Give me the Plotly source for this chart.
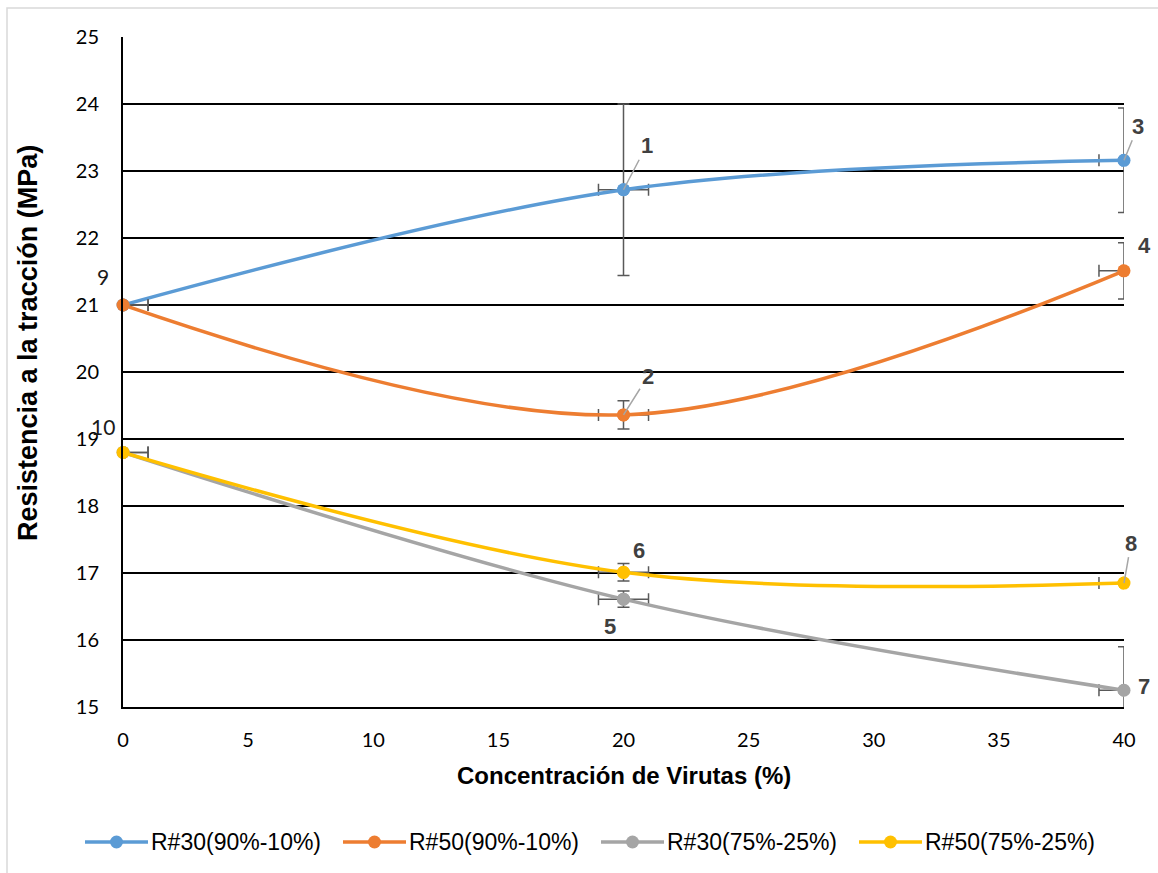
import plotly.graph_objects as go

# Concentration of chips (%) and tensile strength (MPa) per mix
concentracion = [0, 20, 40]

series_names = ["R#30(90%-10%)", "R#50(90%-10%)", "R#30(75%-25%)", "R#50(75%-25%)"]
series_colors = ["#5B9BD5", "#ED7D31", "#A5A5A5", "#FFC000"]

r30_90 = [21.0, 22.72, 23.16]
r50_90 = [21.0, 19.36, 21.51]
r30_75 = [18.8, 16.61, 15.25]
r50_75 = [18.8, 17.01, 16.85]

# standard deviations (vertical) and concentration tolerance (horizontal)
r30_90_err = [0.0, 1.28, 0.78]
r50_90_err = [0.0, 0.21, 0.42]
r30_75_err = [0.0, 0.12, 0.65]
r50_75_err = [0.0, 0.13, 0.0]
conc_err = [1.0, 1.0, 1.0]

series_values = [r30_90, r50_90, r30_75, r50_75]
series_errors = [r30_90_err, r50_90_err, r30_75_err, r50_75_err]

# sample numbers: (series index, point index, text, dx, dy, leader line)
sample_labels = [
    (0, 1, "1", 23, -44, True),
    (1, 1, "2", 24, -38, True),
    (0, 2, "3", 14, -34, True),
    (1, 2, "4", 20, -25, False),
    (2, 1, "5", -14, 27, False),
    (3, 1, "6", 15, -22, False),
    (2, 2, "7", 20, -4, False),
    (3, 2, "8", 7, -40, True),
]
origin_labels = [(0, 0, "9", -20, -29), (2, 0, "10", -20, -26)]

ERR_COLOR = "#595959"
PLOT_L, PLOT_R, PLOT_T, PLOT_B = 123, 1124, 37, 707
W, H = 1158, 873


def px_to_paper_x(px):
    return (px - PLOT_L) / (PLOT_R - PLOT_L)


def px_to_paper_y(py):
    return (PLOT_B - py) / (PLOT_B - PLOT_T)


fig = go.Figure()

for name, color, ys, yerr in zip(series_names, series_colors, series_values, series_errors):
    fig.add_trace(go.Scatter(
        x=concentracion, y=ys, name=name, mode="lines+markers", showlegend=False,
        line=dict(color=color, width=3.5, shape="spline", smoothing=1),
        marker=dict(color=color, size=13),
        error_y=dict(type="data", array=yerr, color=ERR_COLOR, thickness=1.5, width=6),
        error_x=dict(type="data", array=conc_err, color=ERR_COLOR, thickness=1.5, width=6),
        cliponaxis=True,
    ))

# markers sitting on the axis edges stay whole
for color, ys in zip(series_colors, series_values):
    fig.add_trace(go.Scatter(
        x=concentracion, y=ys, mode="markers", showlegend=False, hoverinfo="skip",
        marker=dict(color=color, size=13), cliponaxis=False,
    ))

annotations = []
for si, pi, txt, dx, dy, leader in sample_labels:
    a = dict(x=concentracion[pi], y=series_values[si][pi], text=txt,
             font=dict(family="Liberation Sans", size=22, color="#404040", weight="bold"))
    if leader:
        a.update(showarrow=True, ax=dx, ay=dy, arrowhead=0, arrowwidth=1.5,
                 arrowcolor="#A6A6A6", standoff=0, startstandoff=0)
    else:
        a.update(showarrow=False, xshift=dx, yshift=-dy)
    annotations.append(a)

for si, pi, txt, dx, dy in origin_labels:
    annotations.append(dict(x=concentracion[pi], y=series_values[si][pi], text=txt,
                            showarrow=False, xshift=dx, yshift=-dy,
                            font=dict(family="Lato", size=21, color="#1a1a1a")))

annotations.append(dict(xref="paper", yref="paper", x=0.5, y=px_to_paper_y(775),
                        text="Concentración de Virutas (%)", showarrow=False, yanchor="middle",
                        font=dict(family="Liberation Sans", size=24, color="#000", weight="bold")))
annotations.append(dict(xref="paper", yref="paper", x=px_to_paper_x(28), y=px_to_paper_y(343),
                        text="Resistencia a la tracción (MPa)", showarrow=False,
                        textangle=-90, xanchor="center", yanchor="middle",
                        font=dict(family="Liberation Sans", size=27, color="#000", weight="bold")))

# legend row: line with a dot, then the series name
shapes = [dict(type="rect", xref="paper", yref="paper",
               x0=px_to_paper_x(7), x1=1.3, y0=px_to_paper_y(8), y1=-0.5,
               line=dict(color="#D9D9D9", width=1.5), layer="below")]
LEG_Y = 842
for i, (name, color) in enumerate(zip(series_names, series_colors)):
    x0 = 85 + 258 * i
    shapes.append(dict(type="line", xref="paper", yref="paper",
                       x0=px_to_paper_x(x0), x1=px_to_paper_x(x0 + 63),
                       y0=px_to_paper_y(LEG_Y), y1=px_to_paper_y(LEG_Y),
                       line=dict(color=color, width=3.5)))
    shapes.append(dict(type="circle", xref="paper", yref="paper",
                       xsizemode="pixel", ysizemode="pixel",
                       xanchor=px_to_paper_x(x0 + 31.5), yanchor=px_to_paper_y(LEG_Y),
                       x0=-6.5, x1=6.5, y0=-6.5, y1=6.5,
                       fillcolor=color, line=dict(color=color, width=0)))
    annotations.append(dict(xref="paper", yref="paper", x=px_to_paper_x(x0 + 64),
                            y=px_to_paper_y(LEG_Y), text=name, showarrow=False,
                            xanchor="left", yanchor="middle",
                            font=dict(family="Liberation Sans", size=23, color="#000")))

fig.update_layout(
    width=W, height=H,
    margin=dict(l=PLOT_L, r=W - PLOT_R, t=PLOT_T, b=H - PLOT_B),
    paper_bgcolor="white", plot_bgcolor="white",
    annotations=annotations, shapes=shapes,
    showlegend=False,
)

fig.update_xaxes(range=[0, 40], dtick=5, tick0=0, showgrid=False, zeroline=False,
                 showline=True, linecolor="#000", linewidth=2, ticks="",
                 ticklabelstandoff=14,
                 tickfont=dict(family="Lato", size=20, color="#000"))
fig.update_yaxes(range=[15, 25], dtick=1, tick0=15, showgrid=True, gridcolor="#000", gridwidth=1.8,
                 zeroline=False, showline=True, linecolor="#000", linewidth=2, ticks="",
                 ticklabelstandoff=18,
                 tickfont=dict(family="Lato", size=20, color="#000"))

fig.write_html("out.html")
